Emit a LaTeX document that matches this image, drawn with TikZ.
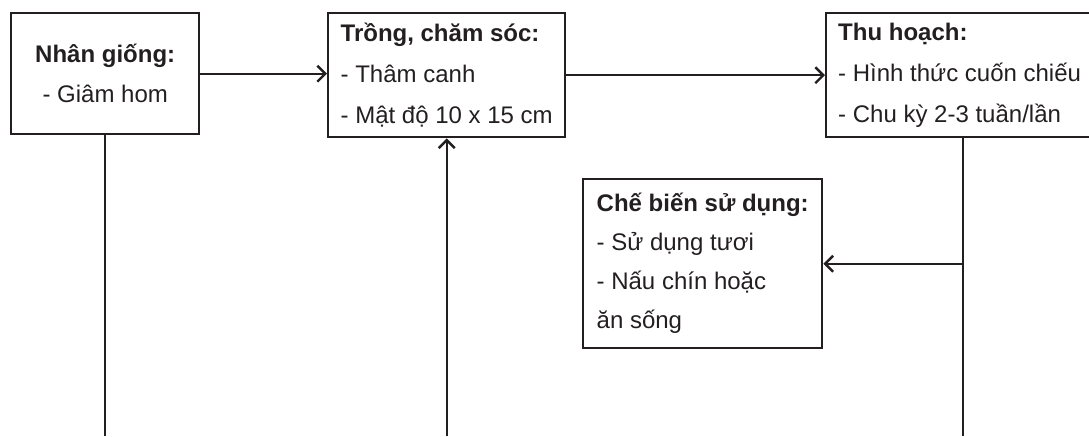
\documentclass[tikz,border=0pt]{standalone}
\usepackage{fontspec}
\setmainfont{Liberation Sans}
\usetikzlibrary{arrows.meta}
\usetikzlibrary{positioning}

\definecolor{ink}{RGB}{35,31,32}

\tikzset{
    stage/.style={draw=ink, line width=1.2pt, rectangle, anchor=north west,
        inner xsep=6pt, inner ysep=0pt, align=left, text=ink,
        font=\fontsize{12}{20.5}\selectfont},
    wire/.style={draw=ink, line width=1.2pt},
    flow/.style={wire, -{Straight Barb[length=4pt,width=8pt,line width=1.2pt]}},
}

\begin{document}
\begin{tikzpicture}[x=0.5pt,y=-0.5pt]
        \useasboundingbox (0,0) rectangle (1089,436);
        % the four stages
        \node[stage, align=center, minimum width=94pt,
              minimum height=60.5pt, font=\fontsize{12}{20}\selectfont] (nhan) at (10,12)
            {\textbf{Nhân giống:}\\- Giâm hom};
        \node[stage, minimum width=118.5pt,
              minimum height=62pt] (trong) at (327,12)
            {\textbf{Trồng, chăm sóc:}\\- Thâm canh\\- Mật độ 10 x 15 cm};
        \node[stage, minimum width=131.5pt,
              minimum height=62pt] (thu) at (825,12)
            {\textbf{Thu hoạch:}\\- Hình thức cuốn chiếu\\- Chu kỳ 2-3 tuần/lần};
        \node[stage, minimum width=119.5pt,
              minimum height=84.5pt, font=\fontsize{12}{19.5}\selectfont] (che) at (582,178)
            {\textbf{Chế biến sử dụng:}\\- Sử dụng tươi\\- Nấu chín hoặc\\ăn sống};

        \coordinate (foot) at (0,436);
        \coordinate (tap) at (963,436);

        \draw [flow] (nhan.east) -- (nhan.east -| trong.west);
        \draw [flow] (trong.east) -- (trong.east -| thu.west);
        \draw [wire] (nhan.south) -- (nhan.south |- foot);
        \draw [flow] (trong.south |- foot) -- (trong.south);
        \draw [wire] (tap |- thu.south) -- (tap);
        \draw [flow] (tap |- che.east) -- (che.east);
\end{tikzpicture}
\end{document}
